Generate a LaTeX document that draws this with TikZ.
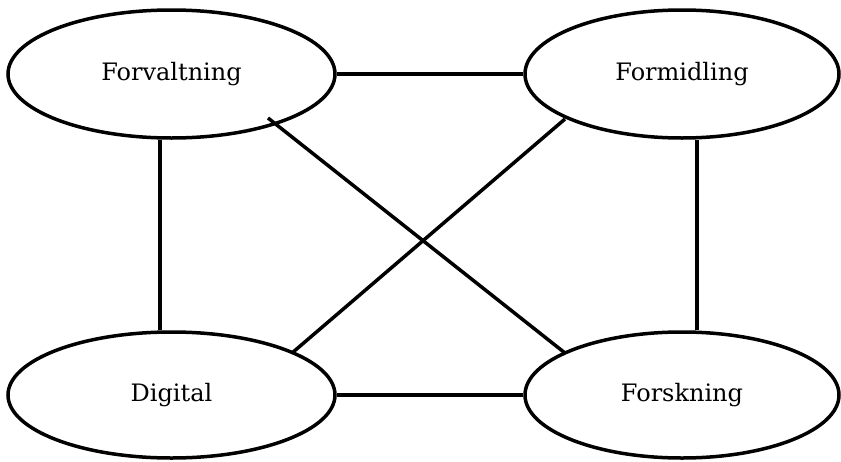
\documentclass[tikz,border=0pt]{standalone}
\usepackage{fontspec}
\setmainfont{DejaVu Serif}
\usetikzlibrary{shapes.geometric,calc}
\begin{document}
\begin{tikzpicture}[x=1pt,y=1pt,
  topic/.style={draw=black,line width=3.5pt,ellipse,inner sep=0pt,fill=white,
     font=\fontsize{24}{28}\selectfont},
  link/.style={draw=black,line width=3.5pt}]
\useasboundingbox (0,0) rectangle (841,-461);
\node[topic,minimum width=327,minimum height=128] (Forvaltning) at (171.5,-74) {Forvaltning};
\node[topic,minimum width=314,minimum height=128] (Formidling) at (682,-74) {Formidling};
\node[topic,minimum width=327,minimum height=126] (Digital) at (171.5,-395) {Digital};
\node[topic,minimum width=314,minimum height=126] (Forskning) at (682,-395) {Forskning};
\draw[link] (Forvaltning) -- (Formidling);
\draw[link] (Digital) -- (Forskning);
\draw[link] ([xshift=-11.5pt]Forvaltning.south) -- ([xshift=-11.5pt]Digital.north);
\draw[link] ([xshift=15pt]Formidling.south) -- ([xshift=15pt]Forskning.north);
\draw[link] ($(Forvaltning.center)+(96.5,-44)$) -- ($(Forskning.center)+(-117,42)$);
\draw[link] ($(Digital.center)+(120.5,42)$) -- ($(Formidling.center)+(-117,-45)$);
\end{tikzpicture}
\end{document}
